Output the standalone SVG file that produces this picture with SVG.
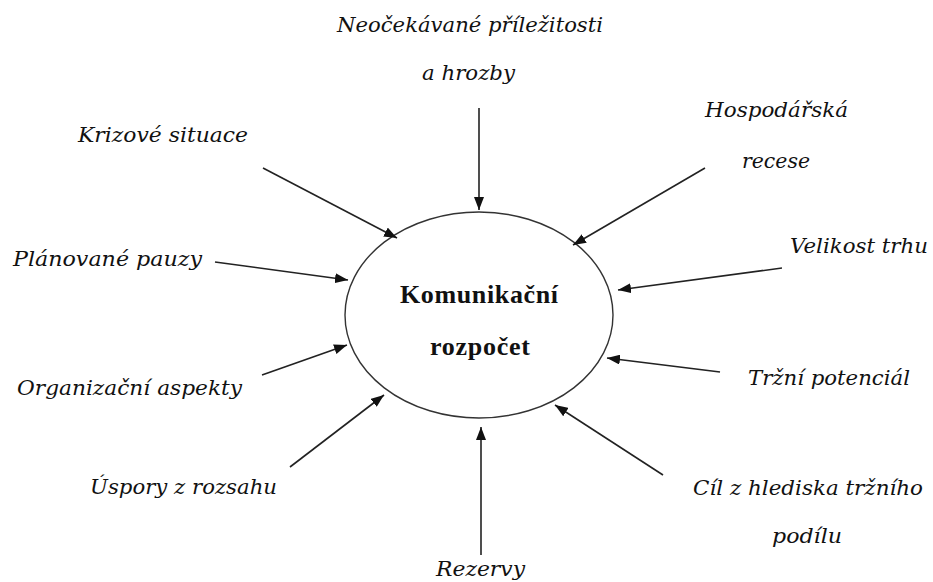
<svg xmlns="http://www.w3.org/2000/svg" width="933" height="582" viewBox="0 0 933 582">
<defs>
<marker id="ah" viewBox="0 0 13 10" refX="13" refY="5" markerWidth="13" markerHeight="10" markerUnits="userSpaceOnUse" orient="auto">
<path d="M0,0 L13,5 L0,10 z" fill="#111"/>
</marker>
<style>
.lbl{font-family:"DejaVu Serif","Liberation Serif",serif;font-style:italic;font-size:20.5px;fill:#111}
.ctr{font-family:"Liberation Serif","Times New Roman",serif;font-weight:bold;font-size:26px;fill:#111}
.con{stroke:#222;stroke-width:1.6;fill:none;marker-end:url(#ah)}
</style>
</defs>
<rect width="933" height="582" fill="#fff"/>
<g id="center">
<ellipse cx="479" cy="315" rx="134" ry="103" fill="none" stroke="#333" stroke-width="1.4"/>
<text class="ctr" x="479" y="303" text-anchor="middle" textLength="158">Komunikační</text>
<text class="ctr" x="480" y="355" text-anchor="middle" textLength="100">rozpočet</text>
</g>
<g id="n-neocekavane">
<text class="lbl" x="337" y="32" textLength="266" lengthAdjust="spacingAndGlyphs">Neočekávané příležitosti</text>
<text class="lbl" x="422" y="80" textLength="93" lengthAdjust="spacingAndGlyphs">a hrozby</text>
</g>
<g id="n-krizove"><text class="lbl" x="78" y="142" textLength="170" lengthAdjust="spacingAndGlyphs">Krizové situace</text></g>
<g id="n-planovane"><text class="lbl" x="13" y="266" textLength="189" lengthAdjust="spacingAndGlyphs">Plánované pauzy</text></g>
<g id="n-organizacni"><text class="lbl" x="17" y="395" textLength="225" lengthAdjust="spacingAndGlyphs">Organizační aspekty</text></g>
<g id="n-uspory"><text class="lbl" x="90" y="494" textLength="187" lengthAdjust="spacingAndGlyphs">Úspory z rozsahu</text></g>
<g id="n-rezervy"><text class="lbl" x="436" y="576" textLength="89" lengthAdjust="spacingAndGlyphs">Rezervy</text></g>
<g id="n-hospodarska">
<text class="lbl" x="705" y="117" textLength="143" lengthAdjust="spacingAndGlyphs">Hospodářská</text>
<text class="lbl" x="742" y="168" textLength="68" lengthAdjust="spacingAndGlyphs">recese</text>
</g>
<g id="n-velikost"><text class="lbl" x="790" y="253" textLength="138" lengthAdjust="spacingAndGlyphs">Velikost trhu</text></g>
<g id="n-trzni"><text class="lbl" x="748" y="385" textLength="162" lengthAdjust="spacingAndGlyphs">Tržní potenciál</text></g>
<g id="n-cil">
<text class="lbl" x="693" y="495" textLength="230" lengthAdjust="spacingAndGlyphs">Cíl z hlediska tržního</text>
<text class="lbl" x="772" y="543" textLength="70" lengthAdjust="spacingAndGlyphs">podílu</text>
</g>
<g id="connectors">
<line class="con" x1="479" y1="108" x2="479" y2="210"/>
<line class="con" x1="263" y1="168" x2="397" y2="238"/>
<line class="con" x1="215" y1="262" x2="348" y2="280"/>
<line class="con" x1="262" y1="375" x2="347" y2="345"/>
<line class="con" x1="290" y1="467" x2="384" y2="395"/>
<line class="con" x1="481" y1="555" x2="481" y2="427"/>
<line class="con" x1="705" y1="168" x2="573" y2="245"/>
<line class="con" x1="782" y1="268" x2="618" y2="290"/>
<line class="con" x1="720" y1="372" x2="607" y2="358"/>
<line class="con" x1="663" y1="475" x2="555" y2="405"/>
</g>
</svg>
